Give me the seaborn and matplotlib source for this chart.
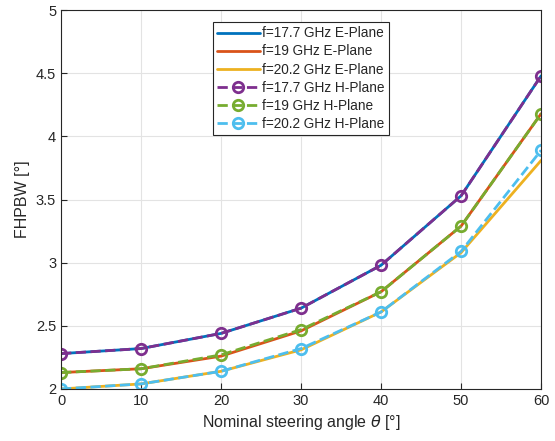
import numpy as np
import pandas as pd
import matplotlib
matplotlib.use("Agg")
import matplotlib.pyplot as plt
import seaborn as sns

theta = [0, 10, 20, 30, 40, 50, 60]

e_177 = [2.28, 2.32, 2.44, 2.64, 2.98, 3.53, 4.48]
e_19 = [2.13, 2.16, 2.26, 2.46, 2.77, 3.29, 4.18]
e_202 = [2.00, 2.04, 2.14, 2.31, 2.61, 3.08, 3.81]

h_177 = [2.28, 2.32, 2.44, 2.64, 2.98, 3.53, 4.48]
h_19 = [2.13, 2.16, 2.27, 2.47, 2.77, 3.29, 4.18]
h_202 = [2.00, 2.04, 2.14, 2.32, 2.61, 3.09, 3.89]

labels_e = ["f=17.7 GHz E-Plane", "f=19 GHz E-Plane", "f=20.2 GHz E-Plane"]
labels_h = ["f=17.7 GHz H-Plane", "f=19 GHz H-Plane", "f=20.2 GHz H-Plane"]
colors_e = ["#0072BD", "#D95319", "#EDB120"]
colors_h = ["#7E2F8E", "#77AC30", "#4DBEEE"]

sns.set_style("ticks")
plt.rcParams['font.family'] = ['Liberation Sans', 'DejaVu Sans']

fig = plt.figure(figsize=(5.55, 4.41), dpi=100)
ax = fig.add_axes([0.110, 0.118, 0.865, 0.859])

for vals, lab, c in zip([e_177, e_19, e_202], labels_e, colors_e):
    sns.lineplot(x=theta, y=vals, color=c, lw=2, label=lab, ax=ax)
for vals, lab, c in zip([h_177, h_19, h_202], labels_h, colors_h):
    sns.lineplot(x=theta, y=vals, color=c, lw=2, linestyle="--", marker="o",
                 markersize=7.5, markerfacecolor="none", markeredgecolor=c,
                 markeredgewidth=2, label=lab, ax=ax)

ax.set_xlim(0, 60)
ax.set_ylim(2, 5)
ax.set_xticks(np.arange(0, 61, 10))
ax.set_yticks(np.arange(2, 5.01, 0.5))
ax.set_yticklabels(["2", "2.5", "3", "3.5", "4", "4.5", "5"])
ax.grid(True, color="#e3e3e3", lw=0.8)
ax.tick_params(direction="in", labelsize=10.5, colors="#262626", length=4)
for s in ax.spines.values():
    s.set_color("#262626")
    s.set_linewidth(0.8)
ax.set_xlabel(r"Nominal steering angle $\theta$ [°]", fontsize=11.5, color="#262626")
ax.set_ylabel("FHPBW [°]", fontsize=11.5, color="#262626")

leg = ax.legend(loc="upper left", bbox_to_anchor=(0.317, 0.968), fontsize=9.8,
                frameon=True, fancybox=False, framealpha=1, edgecolor="#262626",
                handlelength=3.1, handletextpad=0.2, borderpad=0.3,
                labelspacing=0.3, borderaxespad=0)
leg.get_frame().set_linewidth(0.8)

plt.savefig("out.png", dpi=100)
